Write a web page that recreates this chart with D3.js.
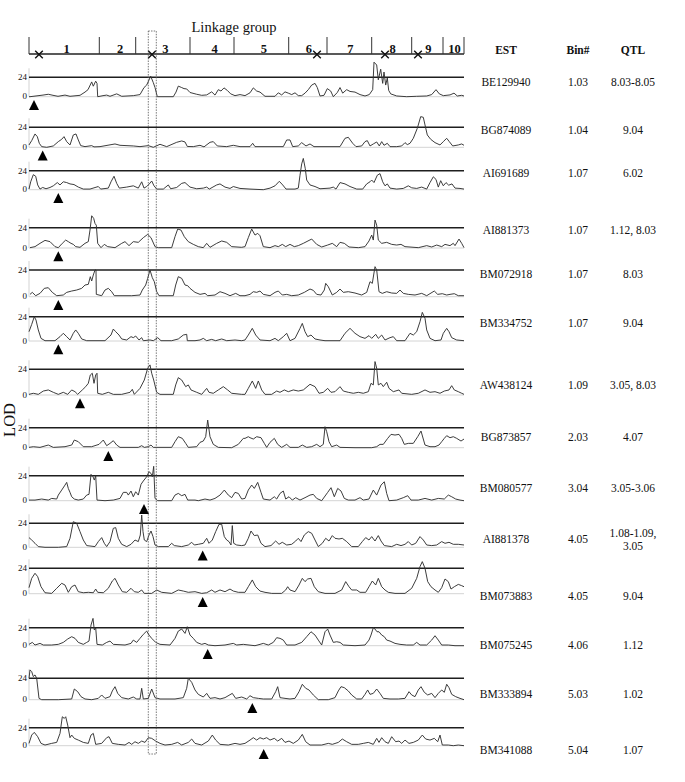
<!DOCTYPE html>
<html><head><meta charset="utf-8">
<script src="https://cdn.jsdelivr.net/npm/d3@7/dist/d3.min.js"></script>
<style>body{margin:0;background:#fff}svg{display:block}text{font-family:"Liberation Serif","Times New Roman",serif;fill:#111}</style>
</head><body><svg id="c" width="685" height="782"></svg>
<script>
// ---------- data ----------
const groups = ["1","2","3","4","5","6","7","8","9","10"];
const groupBounds = [0, 70.3, 106.7, 161, 205, 259.7, 298, 342.7, 382.7, 414, 435];
const crossPos = [10, 123, 288, 356, 389];
const highlight = [119.3, 127.3];
const threshold = 2.4;
const est = ["BE129940","BG874089","AI691689","AI881373","BM072918","BM334752","AW438124","BG873857","BM080577","AI881378","BM073883","BM075245","BM333894","BM341088"];
const bins = ["1.03","1.04","1.07","1.07","1.07","1.07","1.09","2.03","3.04","4.05","4.05","4.06","5.03","5.04"];
const qtl = [["8.03-8.05"],["9.04"],["6.02"],["1.12, 8.03"],["8.03"],["9.04"],["3.05, 8.03"],["4.07"],["3.05-3.06"],["1.08-1.09,","3.05"],["9.04"],["1.12"],["1.02"],["1.07"]];
const estPos = [5, 13.7, 29.3, 29.3, 29.3, 29.3, 51, 79.3, 115, 173.7, 173.7, 178.7, 223.3, 234.7];

const lod1 = [0,0, 1,0, 14,0.2, 19.3,0.3, 24,0.17, 29,0.05, 36,0.2, 41,0.05, 51,0.17, 56,0.57, 59,0.87, 62.7,1.83, 64.3,1.3, 66.7,1.92, 68,1.65, 68.7,0, 74,0.13, 77.7,0.2, 81,0.05, 87.7,0.35, 92.7,0.05, 104.3,0.13, 111,0.26, 115,1.13, 117.7,1.44, 121.7,2.53, 124.3,1.74, 126,1.13, 128.3,0, 144.3,0, 147,0.57, 149.3,1.31, 152.7,1.13, 155,1.0, 157.7,0.96, 161,0.52, 167.7,0.3, 172.7,0.17, 177.7,0.22, 182.7,0.6, 186,0.2, 189.3,0.87, 192,0.7, 195,1.09, 198.3,0.78, 201.7,0.35, 206,0.13, 211,0.26, 216,0.13, 221,0.48, 224.3,1.09, 227.7,0.7, 231,0.57, 236,0.05, 246,0.05, 249.3,0.48, 252.7,0.22, 256,0.6, 259.3,0.44, 262.7,0.26, 266,0.48, 269.3,0.13, 272.7,0.13, 276,0.44, 279.3,0.87, 282.7,1.44, 286,1.65, 288.3,1.13, 291,0.09, 295,0.17, 298.3,1.0, 301.7,0.7, 304.3,0, 308.3,0.52, 311,1.13, 313.7,0.44, 317.7,0.87, 321,0.65, 326,0.57, 331,0.26, 336,0.09, 340.3,0.26, 343.7,0.87, 345,4.27, 347.7,3.92, 349.3,2.09, 351.7,3.4, 353.7,1.65, 355,3.05, 356.7,1.44, 358.3,2.31, 359.7,0.78, 361.7,0.35, 367.7,0.09, 377.7,0, 387.7,0.05, 397.7,0.09, 402.7,0.26, 407,0.87, 410.3,0.35, 414.3,0.13, 421,0.22, 425,0.44, 428.3,0.09, 432.7,0.17, 435,0.09];
const lod2 = [0,0.28, 2.7,0.8, 6,1.6, 8.3,1.28, 10.3,0.48, 12.7,0.08, 17.7,0, 24.3,0.16, 29.3,0.68, 32.7,0.96, 35,1.28, 37.7,0.68, 41,0.28, 44.3,1.48, 47,1.6, 49.3,0.88, 51.7,0.2, 56,0.08, 62.7,0.2, 65,0.05, 71,0.08, 86,0.4, 91,0.24, 104.3,0.16, 111,0.08, 119.3,0.2, 124.3,0, 131,0.36, 137.7,0.08, 147.7,0.6, 152.7,0.76, 156,0.64, 158.3,0.1, 164.3,0.08, 171,0.24, 175,0.05, 181,0.6, 184.3,0.68, 188.3,0.16, 197.7,0.08, 204.3,0.24, 211,0.08, 221,0.08, 223.7,0.48, 226,0.08, 254.3,0.08, 257.7,0.88, 261,0.88, 263.7,0.08, 269.3,0.16, 272.7,0.56, 277,0.16, 281,0.4, 285,0.08, 311,0.08, 316,1.08, 319.3,1.2, 323.7,0.48, 327,0.08, 332.7,0.16, 336,0.68, 338.3,0.8, 341,0.16, 344.3,0.4, 347.7,0.64, 350.3,0.16, 352.7,0.68, 355,0.24, 358.3,0.48, 361,0.08, 367.7,0.08, 372.7,0.16, 376,0.56, 378.3,0.32, 381,0.48, 384.3,1.08, 388.3,2.28, 391.7,3.68, 394.3,3.6, 396,2.68, 398.3,1.48, 401.7,0.96, 406,0.56, 411,0.28, 414.3,0.68, 417.7,1.08, 420.3,0.68, 423.7,0.16, 429.3,0.28, 432.7,0.4, 435,0.24];
const lod3 = [0,0.08, 1.7,1.0, 4.3,1.9, 6.7,1.7, 8.7,0.6, 11,0.08, 13.7,0.28, 17,0.12, 21,0.28, 24.3,0.49, 28.3,0.9, 31,0.6, 34.3,1.0, 37.7,0.9, 41,0.73, 45,0.65, 49.3,0.33, 54.3,0.08, 61,0.08, 69.3,0.4, 71.7,0.08, 79.3,0.2, 82,1.0, 85,1.7, 87.7,0.8, 90.3,0.2, 97.7,0.33, 104.3,0.49, 109.3,0.2, 112.7,1.0, 115,0.2, 117.7,0.4, 120.3,0.73, 122.7,1.1, 125,0.49, 127.7,0.08, 134.3,0.08, 139.3,0.6, 141.7,0.12, 147.7,0.28, 152.7,0.8, 156,0.9, 161,0.33, 167.7,0.12, 174.3,0.2, 177.7,0.33, 180.3,0.08, 187.7,0.6, 191,0.73, 196,0.33, 201,0.16, 204.3,0.4, 211,0.16, 221,0.08, 234.3,0, 241,0.2, 246,0.49, 250.3,1.06, 253.7,0.6, 257,0.08, 266,0.08, 269.3,0.2, 271,1.83, 272.7,3.26, 274.3,3.95, 276.3,2.65, 277.7,1.22, 281,0.6, 286,0.4, 291,0.12, 301,0.2, 304.3,0.33, 307,0.08, 311,0.9, 316,0.73, 321,0.4, 327.7,0.08, 333.7,0.08, 337.7,0.73, 341,1.0, 342.7,1.22, 345,0.9, 348.3,1.83, 351,2.03, 353.7,1.0, 356,0.49, 358.3,0.73, 361,0.2, 367.7,0.08, 374.3,0.16, 379.3,0.49, 382.7,0.24, 387.7,0.16, 392.7,0.33, 397.7,0.08, 401,0.9, 404.3,1.63, 407,1.3, 409.3,0.33, 411.7,1.14, 414.3,0.49, 417,0.9, 419.7,0.57, 423,0.73, 426,0.2, 431,0.16, 435,0.08];
const lod4 = [1,0.04, 6,0.16, 11,0.55, 16,0.9, 21,0.75, 26,0.16, 29.3,0.04, 33.3,0.55, 36.7,0.94, 39.3,0.75, 42,0.55, 44.3,0.43, 46.7,0.16, 51,0.08, 56,0.55, 59.3,0.75, 61,2.12, 62.7,3.81, 64.7,3.5, 66,2.9, 67.3,2.7, 68.7,0.55, 72,0.04, 75.3,0.43, 78.7,0.16, 86,0.04, 92.7,0.55, 96,0.75, 100,0.28, 104.3,0.75, 109.3,0.67, 114.3,1.22, 118.7,1.61, 122,1.22, 126,0.16, 129.3,0.04, 142.7,0.04, 146,1.34, 148.7,2.24, 152,2.12, 155.3,1.34, 159.3,0.75, 164.3,0.43, 169.3,0.16, 174.3,0.04, 177.7,0.55, 181,0.08, 187.7,0.55, 192.7,0.83, 197.7,0.67, 202.7,0.16, 212.7,0.08, 216,0.16, 219.3,1.22, 222.7,2.24, 226,1.53, 228.7,1.73, 231,1.45, 234.3,0.16, 241,0.04, 246,0.28, 249.3,0.16, 253.3,0.43, 256.7,0.16, 261,0.43, 265.3,0.16, 269.3,0.28, 274.3,0.55, 282.7,1.06, 287.7,0.43, 292.7,0.12, 298.7,0.35, 303.3,0.55, 307.7,0.16, 311,0.67, 315.3,0.55, 320,0.12, 329.3,0.04, 336,0.16, 340,0.83, 342.7,1.53, 344.3,0.94, 346,3.3, 347.7,2.7, 349.3,0.94, 352.7,0.55, 357.7,0.67, 362.7,0.43, 367.7,0.35, 372,0.43, 376,0.16, 389.3,0.04, 397.7,0.28, 402.7,0.12, 407.7,0.35, 412.7,0.16, 416,0.43, 421,0.28, 424.3,0.55, 426,0.28, 430,1.06, 432.7,0.55, 435,0.04];
const lod5 = [1,0.21, 3.3,0.39, 6.7,0.09, 11,0.3, 15.3,0.75, 19.3,0.81, 23.3,0.39, 27.7,0.09, 34.3,0.15, 37.7,0.39, 42.7,0.51, 47.7,0.6, 52.7,0.75, 56,1.05, 59.3,1.11, 61.3,1.8, 62.7,1.41, 64.3,1.95, 66,2.4, 67,2.4, 67.3,0.21, 72.7,0.09, 76,0.6, 79.3,0.75, 82.7,0.45, 85.3,0.09, 102.7,0.09, 111,0.15, 113.3,0.6, 116.7,1.05, 118.7,1.65, 121,2.4, 123.3,1.71, 125.3,1.35, 127.7,0.45, 130,0.09, 144.3,0.09, 146.7,1.05, 149.3,1.8, 152.7,1.65, 156,1.05, 158.7,0.99, 161,0.75, 166,0.39, 171,0.21, 176,0.3, 178.7,0.09, 186,0.15, 191,0.45, 196,0.3, 201,0.09, 206.7,0.3, 211,0.09, 216,0.09, 221,0.21, 224.3,0.45, 227.7,0.39, 231,0.51, 234.3,0.21, 241,0.09, 246,0.39, 249.3,0.51, 253.3,0.15, 257.7,0.21, 262.7,0.09, 269.3,0.15, 275.3,0.39, 281,0.69, 284.3,0.57, 287.7,0.21, 292,0.15, 295.3,0.6, 296.7,1.2, 299.3,0.9, 303.3,0.15, 307.7,0.39, 311,0.69, 314.3,0.39, 319.3,0.45, 326,0.33, 332.7,0.15, 337.7,0.39, 341,1.35, 343.3,1.2, 346,2.7, 347.7,2.4, 350,0.45, 353.3,0.3, 357.7,0.45, 362.7,0.33, 367.7,0.3, 371,0.6, 374.3,0.3, 379.3,0.21, 386,0.15, 392.7,0.3, 397.7,0.09, 405.3,0.51, 408.7,0.21, 413.3,0.27, 417.7,0.15, 421,0.21, 425.3,0.27, 429.3,0.09, 435,0.09];
const lod6 = [0,0.92, 2.7,1.64, 5.3,2.4, 7,2.07, 9.3,1.09, 12,0.26, 16,0.03, 26,0.03, 31,0.43, 34.3,0.76, 37.7,0.43, 41,0.1, 44.3,0.76, 46.7,1.09, 49.3,0.76, 52.7,0.2, 57.7,0.03, 76,0.03, 82,0.59, 84.3,1.18, 86.7,0.92, 90,0.59, 92.7,0.2, 97.7,0.1, 102,0.43, 104.3,0.33, 106.7,0.49, 110,0.1, 112.7,0.33, 114.3,0.03, 121,0.1, 124.3,0.03, 128.7,0.33, 132,0.03, 142.7,0.03, 149.3,0.2, 154.3,0.59, 157.7,0.66, 158.3,0.03, 166,0.03, 171,0.1, 174.3,0.26, 177.7,0.03, 182.7,0.16, 186.7,0.03, 192.7,0.2, 197.7,0.03, 206,0.1, 212.7,0.03, 216,0.1, 219.3,0.59, 223.3,1.25, 226.7,0.59, 231,0.1, 241,0.03, 246,0.26, 249.3,0.03, 254.3,0.43, 257.7,0.76, 261,0.03, 266,0.26, 271,1.25, 273.3,1.74, 276,0.92, 278.7,0.43, 282,0.59, 286,0.2, 291,0.1, 296,0.03, 311,0.03, 316,0.76, 321,1.25, 326,0.76, 331,0.43, 336,0.26, 340,0.53, 342.7,0.26, 346.7,0.66, 349.3,0.26, 352.7,0.59, 356,0.1, 361,0.33, 364.3,0.43, 367.7,0.03, 376,0.03, 381,0.76, 384.3,0.59, 387.7,0.92, 391,1.91, 393.3,2.83, 396,2.24, 397.7,1.09, 401,0.26, 406,0.03, 412,0.1, 414.3,0.76, 417.7,1.25, 420,0.92, 422.7,0.33, 427.7,0.1, 435,0.03];
const lod7 = [0,0.06, 4.3,0.16, 9.3,0.06, 14.3,0.37, 19.3,0.47, 24.3,0.25, 29.3,0.06, 34.3,0.25, 38.7,0.06, 42.7,0.47, 46,0.31, 48.7,0.06, 53.3,0.47, 56.7,0.78, 59.3,1.09, 61.3,1.87, 63.3,2.03, 65,1.09, 66.7,1.87, 68,2.03, 68.7,0.16, 73.3,0.06, 79.3,0.25, 84.3,0.06, 92.7,0.06, 101,0.25, 103.3,0.53, 105.3,0.06, 111,0.62, 115.3,1.4, 118.7,2.5, 121,2.81, 122.7,2.03, 124.7,1.4, 127.7,0.25, 131,0.06, 144.3,0.06, 146.7,0.94, 149.3,1.62, 152.7,1.4, 156.7,0.78, 159.3,0.94, 162,0.47, 167.7,0.25, 172.7,0.06, 177.7,0.62, 180,0.25, 184.3,0.16, 189.3,0.47, 194.3,0.78, 198.7,0.47, 202.7,0.16, 212.7,0.06, 216,0.06, 219.3,0.62, 223.3,1.31, 226.7,0.62, 229.3,1.31, 232.7,0.47, 236,0.06, 242.7,0.06, 247.7,0.37, 251,0.25, 255.3,0.47, 259.3,0.31, 264.3,0.47, 269.3,0.37, 274.3,0.47, 281,1.0, 286,0.78, 290,0.16, 294.3,0.25, 298.7,0.62, 302,0.25, 306,0.31, 311,0.78, 314.3,0.37, 319.3,0.25, 324.3,0.16, 329.3,0.25, 334.3,0.16, 339.3,0.31, 342,1.09, 344.3,0.94, 346,3.12, 347.7,2.5, 349.3,0.94, 352,1.09, 354.3,0.78, 357.7,1.19, 360,0.62, 364.3,0.31, 370,0.47, 372.7,0.16, 382.7,0.06, 389.3,0.16, 396,0.47, 401,0.25, 406,0.31, 411,0.16, 415.3,0.37, 420,0.47, 422.7,0.87, 425.3,0.47, 429.3,0.31, 432.7,0.16, 435,0.06];
const lod8 = [0,0.04, 4.3,0.12, 11,0.04, 19.3,0.32, 24.3,0.04, 36,0.12, 42.7,0.32, 45.3,0.92, 49.3,0.72, 54.3,0.12, 62.7,0.12, 70,0.4, 74.3,0.92, 77.7,0.24, 81,0.52, 84.3,0.84, 87.7,0.32, 91,0.04, 109.3,0.04, 112.7,0.24, 115.3,0.04, 119.3,0.12, 122,0.32, 124.3,0.04, 142.7,0.04, 146,0.72, 149.3,1.32, 153.3,1.12, 156.7,0.52, 159.3,0.04, 167.7,0.12, 171,0.64, 174.3,0.8, 176.7,1.32, 178.7,3.32, 181,1.32, 184.3,0.4, 189.3,0.04, 202.7,0, 209.3,0.4, 214.3,1.12, 216,1.12, 219.3,1.32, 221,1.2, 224.3,1.04, 227.7,1.32, 232,1.2, 235.3,0.52, 237.7,0.04, 241,0.64, 245.3,1.12, 248.7,0.4, 252.7,0.04, 257.7,0.4, 261,0.04, 269.3,0.04, 273.3,0.32, 277.7,0.04, 282.7,0.12, 287.7,0.4, 291,0.12, 294.3,0.4, 296,2.52, 297.7,1.92, 300,0.72, 302.7,0.12, 307.7,0.32, 311,0.04, 326,0, 342.7,0, 347.7,0.12, 351,0.4, 354.3,0.4, 358.7,1.12, 362,1.6, 366,1.52, 370,1.6, 372.7,1.12, 375.3,0.4, 379.3,0.52, 384.3,0.52, 388.7,1.32, 392,2.0, 396,0.32, 401,0.12, 406,0.12, 410,0.32, 412.7,0.72, 415.3,1.12, 417.7,1.44, 421,1.2, 424.3,1.32, 427.7,1.12, 432,0.8, 435,1.04];
const lod9 = [0,0.06, 6,0.06, 12.7,0.16, 19.3,0.06, 22.7,0.22, 27.7,0.16, 29.3,0.54, 32.7,1.02, 36,1.5, 37.7,1.76, 39.3,1.18, 41,0.8, 42.7,0.38, 45.3,0.16, 49.3,0.06, 54.3,0.16, 57.7,0.54, 60,0.61, 62,2.53, 64,2.3, 65.3,1.98, 66.7,2.4, 68,0.06, 76,0, 84.3,0.06, 91,0.22, 94.3,0.8, 97.7,0.8, 99.3,0.54, 102,0.93, 104.3,0.38, 106.7,0.86, 109.3,0.54, 112,1.57, 114.3,1.89, 117.7,2.3, 120,2.78, 122,2.62, 123.3,2.3, 124.7,3.3, 126,0.22, 128.7,0, 142.7,0, 146,0.54, 149.3,0.7, 152.7,0.48, 156,0.61, 158.7,0.06, 166,0.06, 169.3,0, 176,0.16, 181,0.06, 186,0.22, 191,0.54, 195.3,1.02, 199.3,0.54, 202.7,0.29, 206,0.8, 209.3,0.7, 212.7,0.16, 216,0.22, 219.3,1.02, 222.7,1.5, 225.3,1.18, 228.7,1.76, 232,0.8, 234.3,0.16, 241,0.06, 245.3,0.38, 247.7,0.16, 251,0.7, 254.3,0.93, 256.7,0.16, 260,0.38, 263.3,0.06, 266.7,0.29, 271,0.06, 276,0.29, 281,0.54, 284.3,0.61, 287.7,0.22, 292.7,0, 298.7,0.8, 302,1.25, 305.3,0.38, 308.7,1.18, 312,0.93, 315.3,0.22, 319.3,0.06, 326,0.06, 331,0.29, 334.3,0.06, 340,0.16, 344.3,1.02, 347.7,0.54, 352,1.5, 355.3,1.82, 357.7,0.7, 360,0, 367.7,0.06, 374.3,0.29, 378.7,0.48, 382,0.06, 389.3,0.06, 396,0.22, 402.7,0.06, 409.3,0.22, 415.3,0.16, 419.3,0.54, 422.7,0.38, 426.7,0.16, 431,0.06, 435,0];
const lod10 = [0,0.97, 2.7,0.73, 6,0.4, 9.3,0.07, 16,0, 29.3,0, 37.7,0.07, 41,0.9, 44.3,2.56, 47.7,2.4, 51,1.57, 54.3,0.73, 57.7,0.17, 66,0.07, 69.3,0.57, 72.7,0.97, 75.3,0.4, 77.7,0.07, 81,0.57, 84.3,1.9, 86.7,1.97, 89.3,0.9, 92.7,0.3, 97.7,0.07, 102,0.3, 106,0.73, 109.3,0.57, 111.3,1.23, 112.7,3.23, 114,1.57, 115.3,0.73, 117.7,0.57, 120,1.23, 122,1.63, 124,1.07, 126,0.23, 129.3,0.07, 139.3,0.07, 142.7,0.4, 145.3,0.17, 152.7,0.07, 159.3,0.23, 162.7,0.5, 165.3,0.23, 169.3,0.3, 174.3,0.4, 177.7,0.9, 180,0.4, 183.3,0.73, 186.7,1.57, 190,2.3, 192.7,2.3, 195.3,1.07, 197.7,0.73, 200,0.57, 202,0.23, 203.3,2.17, 204.7,0.4, 207.7,0.23, 212.7,0.17, 216,0.23, 219.3,0.9, 222,1.63, 225.3,1.17, 228.7,1.23, 232,0.4, 236,0.07, 242,0.17, 246.7,0.63, 250,0.3, 253.3,0.5, 257.7,0.23, 262.7,0.3, 266.7,0.63, 269.3,0.9, 272,0.57, 275.3,1.23, 279.3,1.57, 282.7,1.4, 286,0.73, 289.3,0.07, 293.3,0.4, 296.7,0.9, 300,0.63, 303.3,1.17, 306,0.9, 310,0.83, 313.3,0.9, 317.7,0.57, 322.7,0.07, 329.3,0.07, 333.3,0.57, 336.7,0.97, 340,0.73, 342.7,1.07, 346,0.63, 349.3,1.17, 352,0.63, 355.3,0.17, 362.7,0.07, 367.7,0.3, 372,0.17, 376,0.3, 379.3,0.57, 382.7,0.23, 386.7,0.4, 391,1.07, 394.3,0.73, 397.7,0.23, 402.7,0.17, 407.7,0.23, 412.7,0.57, 416,0.4, 420,0.5, 424.3,0.3, 429.3,0.3, 435,0.23];
const lod11 = [0,0.57, 2.7,1.45, 6,1.93, 8.7,1.61, 12,0.66, 16,0.09, 22.7,0.03, 27.7,0.51, 32.7,0.98, 36,0.82, 39.3,0.13, 42.7,0.66, 46,0.82, 49.3,0.19, 54.3,0.09, 59.3,0.13, 64.3,0.09, 66.7,0.44, 68.7,0.13, 74.3,0.09, 79.3,0.51, 83.3,1.2, 86,1.45, 89.3,0.82, 93.3,0.19, 97.7,0.13, 102,0.51, 105.3,0.19, 109.3,0.13, 112.7,0.35, 115.3,0.03, 122.7,0.03, 127.7,0.35, 132.7,0.13, 142.7,0.03, 149.3,0.35, 154.3,0.25, 159.3,0.13, 166,0.19, 172.7,0.03, 177.7,0.09, 182.7,0.35, 186,0.13, 191,0.35, 196,0.19, 201,0.44, 204.3,0.25, 209.3,0.13, 216,0.13, 219.3,0.66, 223.3,1.3, 226.7,0.66, 231,0.25, 236,0.13, 242.7,0.03, 252.7,0.03, 256.7,0.35, 258.7,0.66, 261,0.35, 266,0.19, 270,0.82, 273.3,1.45, 276,1.14, 278.7,1.39, 282,1.45, 285.3,0.66, 289.3,0.19, 296,0.03, 306,0.03, 312.7,0.35, 316.7,1.14, 320,0.66, 322.7,0.35, 327.7,0.35, 331,0.13, 336.7,0.13, 340,0.66, 343.3,1.2, 346.7,0.82, 349.3,1.45, 352.7,0.66, 356,0.35, 359.3,0.13, 366,0.03, 376,0.03, 382.7,0.51, 387.7,1.45, 391,2.56, 393.3,3.03, 396,2.4, 398.7,1.14, 402,0.66, 406,0.35, 409.3,0.13, 412.7,0.57, 416,1.39, 419.3,1.14, 422,0.44, 425.3,0.66, 429.3,0.88, 432.7,0.76, 435,0.66];
const lod12 = [0,0.18, 3.3,0.44, 6,0.09, 11,0.31, 14.3,0.09, 22.7,0.09, 29.3,0.18, 34.3,0.44, 38.7,0.89, 42.7,1.2, 46,0.98, 49.3,0.44, 54.3,0.18, 57.7,0.44, 60,0.62, 62,2.75, 64,3.64, 65.3,2.09, 66.7,2.4, 68,0.18, 73.3,0.09, 77.7,0.44, 81,0.62, 84.3,0.18, 96,0.09, 102,0.31, 104.3,0.75, 107.7,0.44, 111,0.98, 114.3,1.51, 117.7,1.95, 120,1.42, 122.7,0.98, 126.7,0.44, 131,0.18, 141,0.09, 146,0.98, 149.3,1.95, 152.7,2.22, 156,1.64, 158.3,2.53, 161,1.42, 164.3,0.98, 167.7,0.44, 172.7,0.18, 176,0.31, 179.3,0.09, 186,0, 196,0.09, 204.3,0.31, 207.7,0.09, 214.3,0.18, 220,0.09, 226,0, 231,0.18, 234.3,0.31, 239.3,0.09, 244.3,0.44, 247.7,1.07, 251,0.98, 254.3,0.75, 257.7,0.09, 266,0.09, 272.7,0.44, 277.7,1.2, 282,1.86, 286,1.42, 289.3,0.75, 292.7,0.09, 296,1.86, 298.7,2.22, 301,1.42, 304.3,0.44, 307.7,0.53, 311,0.44, 314.3,0.09, 326,0, 336,0.09, 340,0.75, 342,1.42, 344.3,2.4, 346,2.22, 348,1.86, 350,1.86, 352.7,1.42, 355.3,1.2, 357.7,0.75, 361,0.62, 366,0.31, 371,0.18, 377.7,0.09, 384.3,0.09, 387.7,0.44, 391,0.09, 397.7,0.09, 402.7,0.75, 406,1.33, 409.3,0.75, 412.7,0.09, 419.3,0.09, 426,0, 435,0];
const lod13 = [0,2.4, 1,3.34, 2.7,3.15, 4.3,2.59, 6,2.78, 7.7,2.4, 10,0.15, 12.7,0, 29.3,0, 42.7,0.08, 45.3,1.2, 48.7,0.9, 52,0.34, 56,0.08, 62.7,0, 69.3,0.15, 72.7,0.53, 76,0.15, 81,0.34, 83.3,0.98, 86,1.46, 88.7,0.71, 92.7,0.23, 99.3,0.08, 104.3,0.3, 107.7,0.08, 111,0.08, 112.7,1.28, 114.3,0.08, 119.3,0.15, 122.7,1.2, 126,0.23, 131,0.08, 146,0.08, 154.3,0.23, 157.7,1.28, 159.3,2.4, 162.7,1.95, 166,1.09, 169.3,0.6, 174.3,0.3, 177.7,0.71, 181,0.15, 186,0.23, 191,0.08, 196,0.23, 203.3,0.71, 206.7,0.15, 212.7,0.3, 217.7,0.08, 221,0.45, 224.3,0.23, 229.3,0.15, 234.3,0.08, 242.7,0.08, 246.7,0.9, 248.7,1.46, 251,0.23, 256,0.15, 261,0.08, 266,0.15, 270,0.9, 273.3,1.73, 276.7,1.28, 280,1.09, 284.3,0.53, 289.3,0, 299.3,0, 306,0.23, 309.3,0.98, 312,1.46, 315.3,1.35, 319.3,0.98, 322.7,0.53, 327.7,0.08, 332.7,0.08, 336,0.6, 338.7,1.09, 341,0.6, 344.3,0.71, 347.7,1.2, 351,0.71, 354.3,0.15, 361,0.08, 369.3,0.08, 376,0.15, 380,0.9, 382.7,0.53, 386,0.34, 389.3,1.09, 392,1.46, 395.3,0.83, 398.7,0.53, 402.7,0.71, 406,0.23, 409.3,0.71, 412.7,1.09, 415.3,0.83, 417.7,1.73, 420,1.35, 422.7,0.6, 426.7,0.34, 431,0.15, 435,0];
const lod14 = [0,0.31, 2.7,1.42, 5.3,1.78, 8.7,1.2, 12,0.31, 16,0.09, 22.7,0.31, 27.7,0.44, 31,1.64, 33.3,3.86, 35.3,3.64, 36.7,3.86, 38.7,2.75, 41,1.07, 42.7,1.42, 45.3,0.98, 49.3,0.75, 54.3,0.44, 59.3,0.31, 62,1.42, 64.3,1.64, 66.7,0.18, 72.7,0.31, 77.7,1.07, 80,1.2, 83.3,0.31, 89.3,0.18, 96,0.09, 100,0.44, 102.7,0.18, 106,0.53, 109.3,0.31, 112.7,0.62, 116,0.44, 119.3,1.07, 122.7,0.98, 126.7,0.62, 131,0.31, 136,0.09, 142.7,0.18, 148.7,0.44, 152.7,0.09, 159.3,0.44, 162.7,0.89, 166,0.31, 172.7,0.09, 179.3,0.62, 183.3,1.42, 186.7,0.75, 191,0.18, 199.3,0.09, 206,0.31, 211,0.18, 216,0.31, 221,0.75, 224.3,1.07, 227.7,0.75, 231,1.07, 234.3,0.89, 237.7,1.07, 241,0.75, 245.3,0.98, 248.7,0.62, 252.7,0.98, 256,0.44, 260,0.62, 264.3,0.31, 269.3,0.75, 273.3,1.51, 276.7,0.53, 281,0.09, 292.7,0.09, 299.3,0.31, 303.3,0.18, 309.3,0.44, 313.3,0.89, 317.7,0.53, 322.7,0.18, 329.3,0.18, 334.3,0.31, 339.3,0.44, 344.3,0.18, 347.7,0.98, 350,0.44, 352.7,1.07, 356,0.53, 359.3,0.31, 362.7,1.2, 366.7,0.53, 370,0.62, 372.7,0.31, 376,0.75, 380,0.31, 384.3,0.44, 389.3,0.75, 393.3,1.42, 396.7,0.89, 401,0.75, 405.3,0.98, 408.7,0.53, 411,1.42, 413.3,0.09, 419.3,0.09, 424.3,0, 429.3,0.09, 435,0];
const lodCurves = [lod1,lod2,lod3,lod4,lod5,lod6,lod7,lod8,lod9,lod10,lod11,lod12,lod13,lod14];

// ---------- layout (not data) ----------
const zeroY   = [96.7,147.3,189.7,248,296.7,341,395,447.7,500.7,547.3,593.7,645.7,699.7,745.7];
const threshY = [77.3,127.3,170.7,227.7,270,316.7,369.3,427.7,475.7,523.3,568.3,627.7,678.3,727.7];
const textY   = [82,130,173,230,274,323,385,437,488,539,596,645,694,750];
const colX = {est:506, bin:578, qtl:633};

const svg = d3.select("#c");
const x = d3.scaleLinear().domain([0, 435]).range([29, 464]);

// title
svg.append("text").attr("x", 234).attr("y", 32).attr("text-anchor","middle")
  .style("font-size","14.5px").text("Linkage group");

// top axis
const axisY = 54;
svg.append("line").attr("x1", x(0)).attr("x2", x(435)).attr("y1", axisY).attr("y2", axisY)
  .attr("stroke","#222").attr("stroke-width",1.4);
svg.selectAll(".gt").data(groupBounds).enter().append("line")
  .attr("x1", d=>x(d)).attr("x2", d=>x(d)).attr("y1", 37).attr("y2", axisY)
  .attr("stroke","#333").attr("stroke-width",1);
svg.selectAll(".gl").data(groups).enter().append("text")
  .attr("x", (d,i)=> (x(groupBounds[i])+x(groupBounds[i+1]))/2 + (i<5?2.5:1))
  .attr("y", axisY-1.5).attr("text-anchor","middle")
  .style("font-size","12.5px").style("font-weight","bold").text(d=>d);
// crosses
const cs = 3.8;
crossPos.forEach(p=>{
  const cx = x(p), cy = axisY+0.5;
  svg.append("path").attr("d",`M${cx-cs},${cy-cs}L${cx+cs},${cy+cs}M${cx-cs},${cy+cs}L${cx+cs},${cy-cs}`)
    .attr("stroke","#111").attr("stroke-width",1.4).attr("fill","none");
});

// column headers
[["EST",colX.est],["Bin#",colX.bin],["QTL",colX.qtl]].forEach(([t,cx])=>{
  svg.append("text").attr("x",cx).attr("y",50).attr("dy","0.35em").attr("text-anchor","middle")
    .style("font-size","11.5px").style("font-weight","bold").text(t);
});

// LOD label
svg.append("text").attr("transform","translate(15,420) rotate(-90)").attr("text-anchor","middle")
  .style("font-size","16.5px").text("LOD");

// panels
lodCurves.forEach((arr,i)=>{
  const pts = [];
  for (let k=0;k<arr.length;k+=2) pts.push([arr[k], arr[k+1]]);
  const y = d3.scaleLinear().domain([0, threshold]).range([zeroY[i], threshY[i]]);
  const g = svg.append("g");
  g.append("line").attr("x1",x(0)).attr("x2",x(0)).attr("y1",threshY[i]-9).attr("y2",zeroY[i])
    .attr("stroke","#c8c8c8").attr("stroke-width",0.8);
  g.append("line").attr("x1",x(0)).attr("x2",x(435)).attr("y1",y(0)).attr("y2",y(0))
    .attr("stroke","#d4d4d4").attr("stroke-width",1);
  g.append("line").attr("x1",x(0)).attr("x2",x(435)).attr("y1",y(threshold)).attr("y2",y(threshold))
    .attr("stroke","#1e1e1e").attr("stroke-width",1.4);
  g.append("text").attr("x",27).attr("y",y(threshold)).attr("dy","0.35em").attr("text-anchor","end")
    .style("font-size","9px").text("24");
  g.append("text").attr("x",27).attr("y",y(0)).attr("dy","0.3em").attr("text-anchor","end")
    .style("font-size","9px").text("0");
  g.append("path").datum(pts)
    .attr("d", d3.line().x(d=>x(d[0])).y(d=>y(d[1])))
    .attr("fill","none").attr("stroke","#333").attr("stroke-width",0.95).attr("stroke-linejoin","round");
  const tx = x(estPos[i]), ty = zeroY[i]+3.2;
  g.append("path").attr("d",`M${tx},${ty}L${tx+5},${ty+10}L${tx-5},${ty+10}Z`).attr("fill","#000");
  g.append("text").attr("x",colX.est).attr("y",textY[i]).attr("dy","0.35em").attr("text-anchor","middle")
    .style("font-size","11.5px").text(est[i]);
  g.append("text").attr("x",colX.bin).attr("y",textY[i]).attr("dy","0.35em").attr("text-anchor","middle")
    .style("font-size","11.5px").text(bins[i]);
  const q = qtl[i];
  q.forEach((t,j)=>{
    g.append("text").attr("x",colX.qtl).attr("y",textY[i] + (j-(q.length-1)/2)*13).attr("dy","0.35em")
      .attr("text-anchor","middle").style("font-size","11.5px").text(t);
  });
});

// highlighted dotted box
svg.append("rect").attr("x", x(highlight[0])).attr("y", 31)
  .attr("width", x(highlight[1])-x(highlight[0])).attr("height", 754-31)
  .attr("fill","none").attr("stroke","#555").attr("stroke-width",0.8).attr("stroke-dasharray","1.5,1.2");
</script></body></html>
